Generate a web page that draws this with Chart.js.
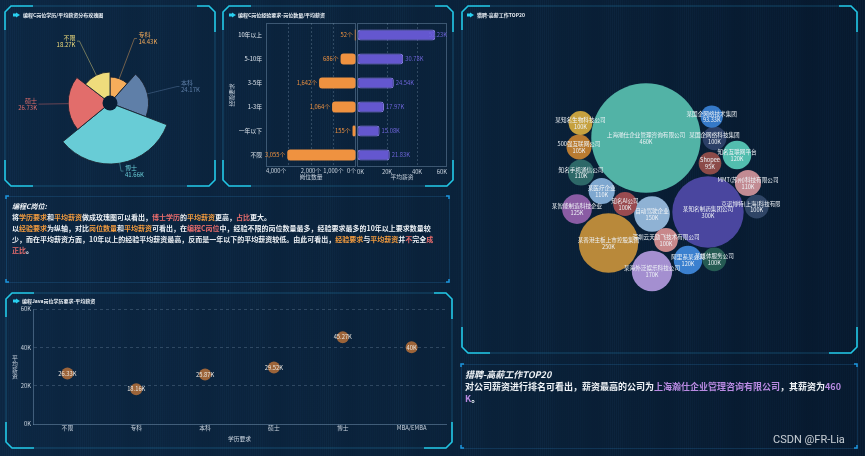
<!DOCTYPE html>
<html lang="zh-CN">
<head>
<meta charset="utf-8">
<title>招聘数据大屏</title>
<script src="https://cdn.jsdelivr.net/npm/chart.js@4.4.1/dist/chart.umd.min.js"></script>
<style>
  html, body { margin: 0; padding: 0; }
  body { width: 865px; height: 456px; overflow: hidden; position: relative; background: #0a1f36;
         font-family: "Noto Sans CJK SC", "Noto Sans", sans-serif; }
  #bg { position: absolute; left: 0; top: 0; }
  canvas.chart { position: absolute; }
  .ptitle { position: absolute; color: #eef3f8; font-size: 5px; line-height: 6px; font-weight: bold; white-space: nowrap; }
  .note { position: absolute; color: #eef2f6; font-weight: bold; white-space: nowrap; }
  .note i { font-style: italic; }
  .o { color: #f29b3e; }
  .r { color: #e86c6c; }
  .p { color: #b98ae2; }
  .vname { position: absolute; color: #c9d3de; font-size: 5.8px; line-height: 6px; width: 8px; text-align: center; }
  .mark { position: absolute; color: rgba(232,236,240,0.85); font-family: Roboto, "Noto Sans", sans-serif; font-size: 11px; white-space: nowrap; }
</style>
</head>
<body>
<canvas id="bg" width="865" height="456"></canvas>

<canvas id="rose" class="chart" width="210" height="180" style="left:5px;top:6px"></canvas>
<canvas id="expCount" class="chart" width="136" height="188" style="left:222px;top:0px"></canvas>
<canvas id="expSalary" class="chart" width="104" height="188" style="left:356px;top:0px"></canvas>
<canvas id="java" class="chart" width="447" height="155" style="left:5px;top:293px"></canvas>
<canvas id="top20" class="chart" width="240" height="225" style="left:540px;top:75px"></canvas>

<div class="ptitle" style="left:23px;top:12px">编程C岗位学历/平均薪资分布玫瑰图</div>
<div class="ptitle" style="left:238px;top:12px">编程C岗位经验要求-岗位数量/平均薪资</div>
<div class="ptitle" style="left:22px;top:298px">编程Java岗位学历要求-平均薪资</div>
<div class="ptitle" style="left:477px;top:12px">猎聘-高薪工作TOP20</div>

<div class="note" style="left:12px;top:201px;font-size:7px;line-height:11px">
<i>编程C岗位:</i><br>
将<span class="o">学历要求</span>和<span class="o">平均薪资</span>做成玫瑰图可以看出，<span class="r">博士学历</span>的<span class="o">平均薪资</span>更高，<span class="r">占比</span>更大。<br>
以<span class="o">经验要求</span>为纵轴，对比<span class="o">岗位数量</span>和<span class="o">平均薪资</span>可看出，在<span class="r">编程C岗位</span>中，经验不限的岗位数量最多，经验要求最多的10年以上要求数量较<br>
少，而在平均薪资方面，10年以上的经验平均薪资最高，反而是一年以下的平均薪资较低。由此可看出，<span class="o">经验要求</span>与<span class="o">平均薪资</span>并<span class="r">不</span>完全<span class="r">成</span><br>
<span class="r">正比</span>。
</div>

<div class="note" style="left:465px;top:369px;font-size:9px;line-height:12px">
<i>猎聘-高薪工作TOP20</i><br>
对公司薪资进行排名可看出，薪资最高的公司为<span class="p">上海瀚仕企业管理咨询有限公司</span>，其薪资为<span class="p">460</span><br>
<span class="p">K</span>。
</div>

<div class="vname" style="left:11px;top:355px">平<br>均<br>薪<br>资</div>
<div class="mark" style="left:773px;top:433px">CSDN @FR-Lia</div>

<script>
// ---- data ----
// 编程C 学历 / 平均薪资 (K)
const roseCats = ['专科', '本科', '博士', '硕士', '不限'];
const roseSalary = [14.43, 24.17, 41.66, 26.73, 18.27];

// 编程C 经验要求
const expCats = ['10年以上', '5-10年', '3-5年', '1-3年', '一年以下', '不限'];
const expCount = [52, 686, 1642, 1064, 155, 3055];
const expSalary = [52.23, 30.78, 24.54, 17.97, 15.08, 21.83];
const countTickShown = [0, 1000, 2000, 4000];

// 编程Java 学历要求 / 平均薪资 (K)
const javaCats = ['不限', '专科', '本科', '硕士', '博士', 'MBA/EMBA'];
const javaSalary = [26.33, 18.16, 25.87, 29.52, 45.27, 40];

// 猎聘 高薪 TOP20 (K)
const topCompanies = ['上海瀚仕企业管理咨询有限公司', '某知名制药集团公司', '某香港主板上市控股集团', '某海外泛娱乐科技公司',
  '自动驾驶企业', '某智能制造科技企业', '知名互联网平台', '阿里系某公司', '知名手机通信公司', '某医疗企业',
  'MMT(苏州)科技有限公司', '500强互联网公司', '某知名生物科技公司', '某国企网络科技集团', '知名AI公司',
  '深圳云天励飞技术有限公司', '克诺博特(上海)科技有限公司', '某媒体服务公司', 'Shopee', '某国企网络技术集团'];
const topSalary = [460, 300, 250, 170, 150, 125, 120, 120, 110, 110, 110, 105, 100, 100, 100, 100, 100, 100, 95, 93.33];

// packed bubble layout (bubble canvas units)
const packX = [106, 168, 68.5, 112, 112, 37, 197, 148, 41, 61.7, 208, 39, 40.5, 174.5, 85, 126, 216.7, 174.3, 170, 171.7];
const packY = [63, 137, 168, 196, 139, 134, 80, 185, 97.5, 116, 108, 72, 48, 63.3, 129, 165, 131.7, 184.3, 88.3, 41.7];

// ---- styles ----
const roseColors = ['#f6ad5b', '#5f7fa8', '#68ccd6', '#e26d6b', '#efdc7c'];
const bubbleColors = ['#52b3a6', '#4a469f', '#b9893a', '#a48fd0', '#8fb2d4', '#8a5ca4', '#52bdae', '#3b80cf',
  '#2d6868', '#7fa8d0', '#c28b93', '#b97b31', '#c6a13f', '#2b3f66', '#9a4b50', '#c8888b', '#2f4566',
  '#255b53', '#8c4b49', '#3579c8'];
const FONT = '"Noto Sans CJK SC", "Noto Sans", sans-serif';
const BUBBLE_SCALE = 0.119;

Chart.defaults.font.family = FONT;
Chart.defaults.font.size = 5.8;
Chart.defaults.color = '#c9d3de';
Chart.defaults.animation = false;
Chart.defaults.plugins.legend.display = false;
Chart.defaults.plugins.tooltip.enabled = false;

const thousands = v => String(v).replace(/\B(?=(\d{3})+(?!\d))/g, ',');

// ---- background & panel frames ----
const bg = document.getElementById('bg').getContext('2d');
let grad = bg.createLinearGradient(0, 0, 865, 0);
grad.addColorStop(0, '#0c2641');
grad.addColorStop(0.55, '#0a2139');
grad.addColorStop(1, '#07192e');
bg.fillStyle = grad;
bg.fillRect(0, 0, 865, 456);
for (let x = 0; x < 865; x += 2) {
  const a = 0.03 + 0.03 * Math.sin(x * 0.13) * Math.sin(x * 0.047 + 1.3);
  bg.fillStyle = 'rgba(70,140,200,' + Math.max(0, a).toFixed(3) + ')';
  bg.fillRect(x, 0, 1, 456);
}

function frame(x, y, w, h) {
  const c = 6;
  bg.strokeStyle = 'rgba(40,150,200,0.35)';
  bg.lineWidth = 1;
  bg.beginPath();
  bg.moveTo(x + c, y); bg.lineTo(x + w - c, y); bg.lineTo(x + w, y + c);
  bg.lineTo(x + w, y + h - c); bg.lineTo(x + w - c, y + h); bg.lineTo(x + c, y + h);
  bg.lineTo(x, y + h - c); bg.lineTo(x, y + c); bg.closePath();
  bg.stroke();
  bg.strokeStyle = '#22c6e4';
  bg.lineWidth = 1.6;
  bg.beginPath();
  bg.moveTo(x, y + c + 18); bg.lineTo(x, y + c); bg.lineTo(x + c, y); bg.lineTo(x + c + 22, y);
  bg.moveTo(x + w - c - 12, y); bg.lineTo(x + w - c, y); bg.lineTo(x + w, y + c); bg.lineTo(x + w, y + c + 20);
  bg.moveTo(x, y + h - c - 20); bg.lineTo(x, y + h - c); bg.lineTo(x + c, y + h); bg.lineTo(x + c + 22, y + h);
  bg.moveTo(x + w - c - 22, y + h); bg.lineTo(x + w - c, y + h); bg.lineTo(x + w, y + h - c); bg.lineTo(x + w, y + h - c - 20);
  bg.stroke();
}
function ticksBox(x, y, w, h) {
  bg.strokeStyle = 'rgba(40,120,180,0.25)';
  bg.lineWidth = 1;
  bg.strokeRect(x + 0.5, y + 0.5, w, h);
  bg.strokeStyle = '#1c96de';
  bg.lineWidth = 1.5;
  bg.beginPath();
  bg.moveTo(x, y + 3); bg.lineTo(x, y); bg.lineTo(x + 3, y);
  bg.moveTo(x + w - 3, y); bg.lineTo(x + w, y); bg.lineTo(x + w, y + 3);
  bg.moveTo(x, y + h - 3); bg.lineTo(x, y + h); bg.lineTo(x + 3, y + h);
  bg.moveTo(x + w - 3, y + h); bg.lineTo(x + w, y + h); bg.lineTo(x + w, y + h - 3);
  bg.stroke();
}
function icon(x, y) {
  bg.fillStyle = '#29d0f0';
  bg.fillRect(x, y - 1.5, 3, 3);
  bg.beginPath();
  bg.moveTo(x + 3, y - 2.5); bg.lineTo(x + 7, y); bg.lineTo(x + 3, y + 2.5);
  bg.closePath(); bg.fill();
}
frame(5, 6, 210, 180);
frame(223, 6, 230, 180);
frame(6, 293, 446, 155);
frame(462, 6, 395, 347);
ticksBox(6, 196, 443, 86);
ticksBox(461, 364, 396, 84);
icon(13, 15); icon(229, 15); icon(13, 301); icon(467, 15);

// ---- plugins ----
const plotBox = {
  id: 'plotBox',
  beforeDatasetsDraw(chart) {
    const { ctx, chartArea: a } = chart;
    ctx.save();
    ctx.strokeStyle = 'rgba(120,150,180,0.45)';
    ctx.lineWidth = 1;
    ctx.strokeRect(a.left + 0.5, a.top + 0.5, a.width - 1, a.height - 1);
    ctx.restore();
  }
};

// count axis labels, kept inside the plot at both ends
const countTicks = {
  id: 'countTicks',
  afterDraw(chart) {
    const s = chart.scales.x, ctx = chart.ctx;
    ctx.save();
    ctx.font = '5.8px ' + FONT;
    ctx.fillStyle = '#c9d3de';
    ctx.textBaseline = 'top';
    s.ticks.forEach(t => {
      if (!countTickShown.includes(t.value)) return;
      ctx.textAlign = t.value === s.max ? 'left' : (t.value === s.min ? 'right' : 'center');
      ctx.fillText(thousands(t.value) + '个', s.getPixelForValue(t.value), chart.chartArea.bottom + 1);
    });
    ctx.restore();
  }
};

function barValues(side, color, fmt) {
  return {
    id: 'barValues',
    afterDatasetsDraw(chart) {
      const { ctx, chartArea: a } = chart;
      const vals = chart.data.datasets[0].data;
      ctx.save();
      ctx.font = '5.8px ' + FONT;
      ctx.fillStyle = color;
      ctx.textBaseline = 'middle';
      chart.getDatasetMeta(0).data.forEach((bar, i) => {
        const txt = fmt(vals[i]);
        if (side === 'left') {
          ctx.textAlign = 'right';
          ctx.fillText(txt, bar.x - 2, bar.y);
        } else {
          const w = ctx.measureText(txt).width;
          let x = bar.x + 2;
          if (x + w > a.right) x = a.right - w;
          ctx.textAlign = 'left';
          ctx.fillText(txt, x, bar.y);
        }
      });
      ctx.restore();
    }
  };
}

const roseLabels = {
  id: 'roseLabels',
  afterDatasetsDraw(chart) {
    const ctx = chart.ctx;
    const scale = chart.scales.r;
    ctx.save();
    ctx.fillStyle = '#0a1e35';
    ctx.beginPath();
    ctx.arc(scale.xCenter, scale.yCenter, scale.getDistanceFromCenterForValue(0), 0, Math.PI * 2);
    ctx.fill();
    const elbowR = scale.drawingArea + 8;
    ctx.font = '6px ' + FONT;
    ctx.textBaseline = 'middle';
    chart.getDatasetMeta(0).data.forEach((arc, i) => {
      const mid = (arc.startAngle + arc.endAngle) / 2;
      const dx = Math.cos(mid), dy = Math.sin(mid);
      const x0 = arc.x + dx * arc.outerRadius, y0 = arc.y + dy * arc.outerRadius;
      const x1 = arc.x + dx * elbowR, y1 = arc.y + dy * elbowR;
      const right = dx >= 0;
      const x2 = x1 + (right ? 2.5 : -2.5);
      ctx.strokeStyle = roseColors[i];
      ctx.globalAlpha = 0.55;
      ctx.lineWidth = 0.8;
      ctx.beginPath();
      ctx.moveTo(x0, y0); ctx.lineTo(x1, y1); ctx.lineTo(x2, y1);
      ctx.stroke();
      ctx.globalAlpha = 1;
      ctx.fillStyle = roseColors[i];
      ctx.textAlign = right ? 'left' : 'right';
      const tx = x2 + (right ? 1.5 : -1.5);
      ctx.fillText(roseCats[i], tx, y1 - 3.5);
      ctx.fillText(roseSalary[i] + 'K', tx, y1 + 3.5);
    });
    ctx.restore();
  }
};

const pointValues = {
  id: 'pointValues',
  afterDatasetsDraw(chart) {
    const ctx = chart.ctx;
    ctx.save();
    ctx.font = '5.8px ' + FONT;
    ctx.fillStyle = '#ece6de';
    ctx.textAlign = 'center';
    ctx.textBaseline = 'middle';
    chart.getDatasetMeta(0).data.forEach((pt, i) => {
      ctx.fillText(javaSalary[i] + 'K', pt.x, pt.y);
    });
    ctx.restore();
  }
};

const bubbleLabels = {
  id: 'bubbleLabels',
  afterDatasetsDraw(chart) {
    const ctx = chart.ctx;
    ctx.save();
    ctx.font = '5.6px ' + FONT;
    ctx.fillStyle = '#eef2f6';
    ctx.textAlign = 'center';
    ctx.textBaseline = 'middle';
    chart.getDatasetMeta(0).data.forEach((pt, i) => {
      ctx.fillText(topCompanies[i], pt.x, pt.y - 3);
      ctx.fillText(topSalary[i] + 'K', pt.x, pt.y + 3.5);
    });
    ctx.restore();
  }
};

// ---- rose (polar area with angle ~ value) ----
const roseTotal = roseSalary.reduce((s, v) => s + v, 0);
const roseMax = Math.max(...roseSalary);
new Chart(document.getElementById('rose'), {
  type: 'polarArea',
  data: {
    labels: roseCats,
    datasets: [{
      data: roseSalary,
      backgroundColor: roseColors,
      borderColor: 'rgba(25,35,50,0.9)',
      borderWidth: 1,
      angle: ctx => roseSalary[ctx.dataIndex] / roseTotal * 360
    }]
  },
  options: {
    responsive: false,
    layout: { padding: { left: 44, right: 44, top: 36, bottom: 22 } },
    scales: { r: { display: false, min: -roseMax * 0.14, max: roseMax } }
  },
  plugins: [roseLabels]
});

// ---- experience: job count (left, reversed) ----
new Chart(document.getElementById('expCount'), {
  type: 'bar',
  data: {
    labels: expCats,
    datasets: [{
      data: expCount,
      backgroundColor: '#ef9240',
      borderRadius: 3,
      borderSkipped: false,
      barPercentage: 0.46,
      categoryPercentage: 1
    }]
  },
  options: {
    responsive: false,
    indexAxis: 'y',
    layout: { padding: { top: 23, right: 2, bottom: 4, left: 0 } },
    scales: {
      x: {
        reverse: true, min: 0, max: 4000,
        afterFit: s => { s.height = 17; },
        ticks: { stepSize: 1000, display: false },
        grid: { drawTicks: false, color: c => (c.tick.value > 0 && c.tick.value < 4000) ? 'rgba(140,165,190,0.3)' : 'transparent' },
        border: { display: false, dash: [2, 2] },
        title: { display: true, text: '岗位数量', padding: { top: 0, bottom: 3.5 } }
      },
      y: {
        afterFit: s => { s.width = 44; },
        grid: { display: false, drawTicks: false },
        border: { display: false },
        ticks: { padding: 4, color: '#dde4ec' },
        title: { display: true, text: '经验要求', padding: { top: 6.5, bottom: 0 } }
      }
    }
  },
  plugins: [plotBox, countTicks, barValues('left', '#ef9240', v => thousands(v) + '个')]
});

// ---- experience: avg salary (right) ----
new Chart(document.getElementById('expSalary'), {
  type: 'bar',
  data: {
    labels: expCats,
    datasets: [{
      data: expSalary,
      backgroundColor: '#6457cf',
      borderColor: '#8a80e6',
      borderWidth: 1,
      borderRadius: 3,
      borderSkipped: false,
      barPercentage: 0.46,
      categoryPercentage: 1
    }]
  },
  options: {
    responsive: false,
    indexAxis: 'y',
    layout: { padding: { top: 23, right: 13, bottom: 4, left: 1 } },
    scales: {
      x: {
        min: 0, max: 60,
        afterFit: s => { s.height = 17; },
        ticks: { stepSize: 20, autoSkip: false, align: 'inner', padding: 1, maxRotation: 0, minRotation: 0,
                 callback: v => v + 'K' },
        grid: { drawTicks: false, color: c => (c.tick.value > 0 && c.tick.value < 60) ? 'rgba(140,165,190,0.3)' : 'transparent' },
        border: { display: false, dash: [2, 2] },
        title: { display: true, text: '平均薪资', padding: { top: 0, bottom: 3.5 } }
      },
      y: { display: false }
    }
  },
  plugins: [plotBox, barValues('right', '#6d64d8', v => v.toFixed(2) + 'K')]
});

// ---- Java education scatter ----
new Chart(document.getElementById('java'), {
  type: 'line',
  data: {
    labels: javaCats,
    datasets: [{
      data: javaSalary,
      showLine: false,
      pointRadius: 6,
      pointBorderWidth: 0,
      pointBackgroundColor: 'rgba(192,116,56,0.8)'
    }]
  },
  options: {
    responsive: false,
    layout: { padding: { top: 16, right: 5, bottom: 4, left: 0 } },
    scales: {
      x: {
        offset: true,
        afterFit: s => { s.height = 20; },
        grid: { display: false, drawTicks: false },
        border: { display: true, color: 'rgba(110,140,170,0.55)' },
        ticks: { padding: 0, maxRotation: 0 },
        title: { display: true, text: '学历要求', padding: { top: 0, bottom: 1.5 } }
      },
      y: {
        min: 0, max: 60,
        afterFit: s => { s.width = 28; },
        ticks: { stepSize: 20, padding: 2, callback: v => v + 'K' },
        grid: { drawTicks: false, color: c => c.tick.value > 0 ? 'rgba(140,165,190,0.28)' : 'transparent' },
        border: { display: true, color: 'rgba(110,140,170,0.55)', dash: [3, 3] }
      }
    }
  },
  plugins: [pointValues]
});

// ---- 猎聘 TOP20 packed bubbles ----
new Chart(document.getElementById('top20'), {
  type: 'bubble',
  data: {
    datasets: [{
      data: topSalary.map((v, i) => ({ x: packX[i], y: packY[i], r: v * BUBBLE_SCALE })),
      backgroundColor: bubbleColors,
      borderWidth: 0,
      clip: false
    }]
  },
  options: {
    responsive: false,
    layout: { padding: 0, autoPadding: false },
    scales: {
      x: { display: false, min: 0, max: 240 },
      y: { display: false, min: 0, max: 225, reverse: true }
    }
  },
  plugins: [bubbleLabels]
});
</script>
</body>
</html>
